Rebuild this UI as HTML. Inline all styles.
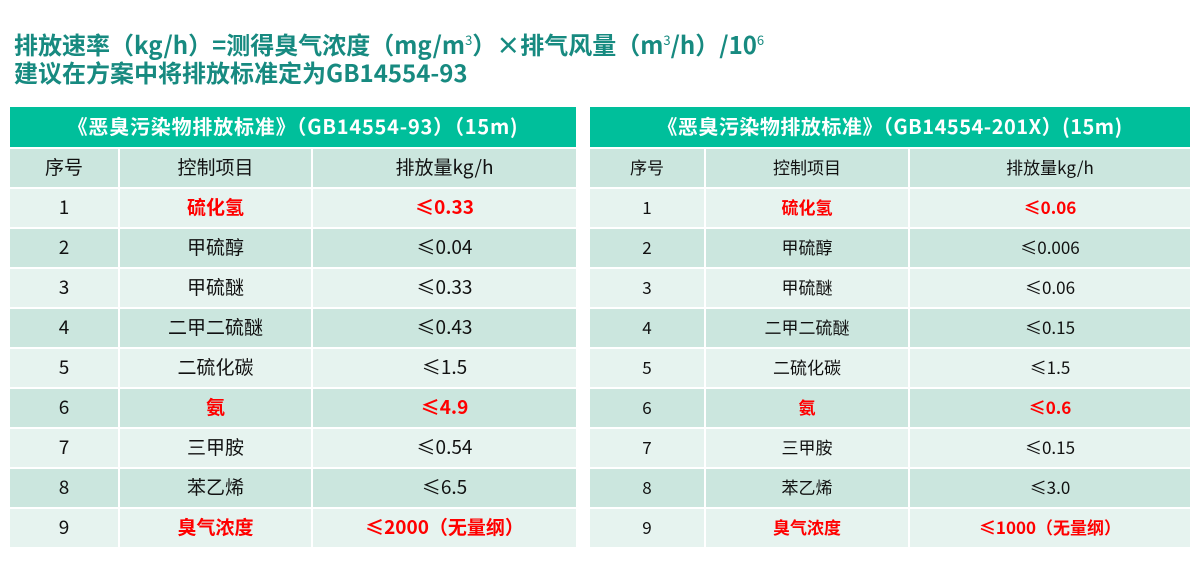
<!DOCTYPE html>
<html><head><meta charset="utf-8"><style>
body{margin:0;width:1200px;height:564px;background:#fff;font-family:"Noto Sans CJK SC","Liberation Sans",sans-serif;overflow:hidden;position:relative}
.t{position:absolute;left:14px;color:#178a80;font-weight:bold;font-size:24px;line-height:32px;white-space:nowrap}
table{position:absolute;top:105px;border-collapse:separate;border-spacing:0 2px;table-layout:fixed}
td{text-align:center;font-size:19px;color:#111;height:38px;padding:0 0 3px 0;border-left:2px solid #fff;line-height:20px;box-sizing:border-box}
td:first-child{border-left:none}
.cap{background:#00bf9b;color:#fff;font-weight:bold;font-size:20px;height:40px;letter-spacing:0.8px}
.h td,.d td{background:#cbe6de}
.l td{background:#e6f3ef}
.r{color:#f00 !important;font-weight:bold}
#b td{font-size:17px}
#b .cap{font-size:20px;letter-spacing:0.5px}
</style></head><body>
<div class="t" style="top:24px">排放速率（kg/h）=测得臭气浓度（mg/m<sup style="font-size:13px;font-weight:normal">3</sup>）×排气风量（m<sup style="font-size:13px;font-weight:normal">3</sup>/h）/10<sup style="font-size:13px;font-weight:normal">6</sup></div>
<div class="t" style="top:56px">建议在方案中将排放标准定为GB14554-93</div>
<table style="left:10px;width:566px">
<colgroup><col style="width:108px"><col style="width:193px"><col></colgroup>
<tr><td class="cap" colspan="3">《恶臭污染物排放标准》（GB14554-93）（15m)</td></tr>
<tr class="h"><td>序号</td><td>控制项目</td><td>排放量kg/h</td></tr>
<tr class="l"><td>1</td><td class="r">硫化氢</td><td class="r">≤0.33</td></tr>
<tr class="d"><td>2</td><td>甲硫醇</td><td>≤0.04</td></tr>
<tr class="l"><td>3</td><td>甲硫醚</td><td>≤0.33</td></tr>
<tr class="d"><td>4</td><td>二甲二硫醚</td><td>≤0.43</td></tr>
<tr class="l"><td>5</td><td>二硫化碳</td><td>≤1.5</td></tr>
<tr class="d"><td>6</td><td class="r">氨</td><td class="r">≤4.9</td></tr>
<tr class="l"><td>7</td><td>三甲胺</td><td>≤0.54</td></tr>
<tr class="d"><td>8</td><td>苯乙烯</td><td>≤6.5</td></tr>
<tr class="l"><td>9</td><td class="r">臭气浓度</td><td class="r">≤2000（无量纲）</td></tr>
</table>
<table id="b" style="left:590px;width:600px">
<colgroup><col style="width:114px"><col style="width:204px"><col></colgroup>
<tr><td class="cap" colspan="3">《恶臭污染物排放标准》（GB14554-201X）(15m)</td></tr>
<tr class="h"><td>序号</td><td>控制项目</td><td>排放量kg/h</td></tr>
<tr class="l"><td>1</td><td class="r">硫化氢</td><td class="r">≤0.06</td></tr>
<tr class="d"><td>2</td><td>甲硫醇</td><td>≤0.006</td></tr>
<tr class="l"><td>3</td><td>甲硫醚</td><td>≤0.06</td></tr>
<tr class="d"><td>4</td><td>二甲二硫醚</td><td>≤0.15</td></tr>
<tr class="l"><td>5</td><td>二硫化碳</td><td>≤1.5</td></tr>
<tr class="d"><td>6</td><td class="r">氨</td><td class="r">≤0.6</td></tr>
<tr class="l"><td>7</td><td>三甲胺</td><td>≤0.15</td></tr>
<tr class="d"><td>8</td><td>苯乙烯</td><td>≤3.0</td></tr>
<tr class="l"><td>9</td><td class="r">臭气浓度</td><td class="r">≤1000（无量纲）</td></tr>
</table>
</body></html>
